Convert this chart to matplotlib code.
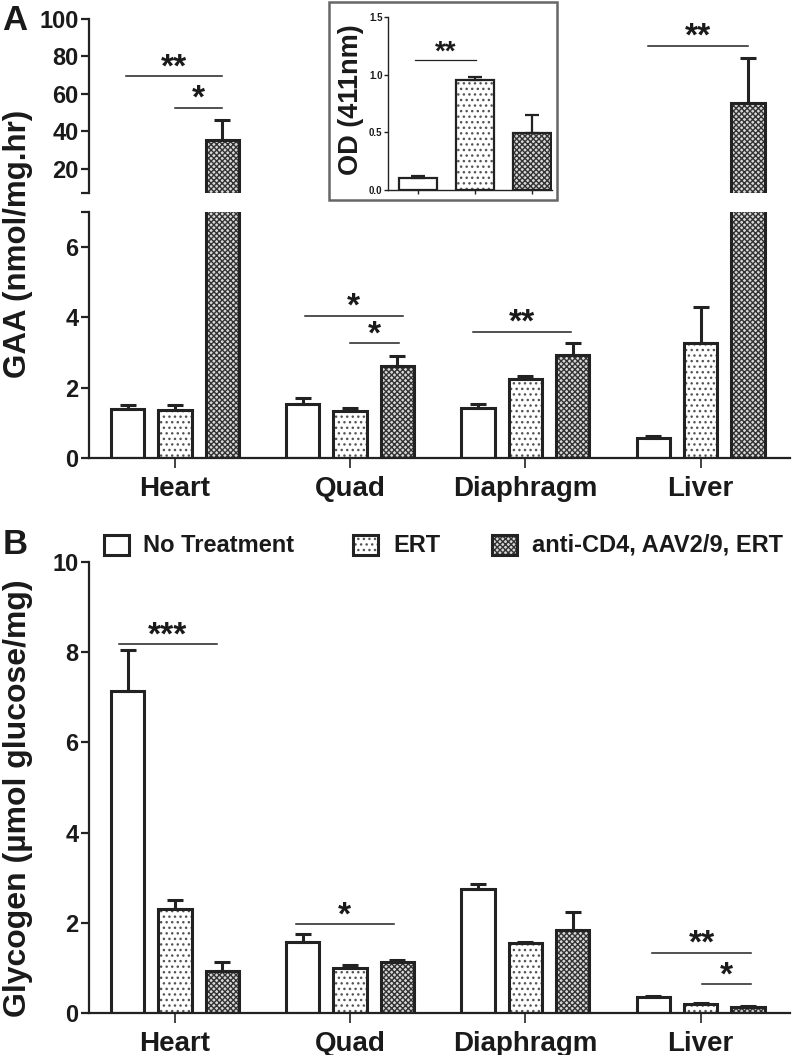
import matplotlib
matplotlib.use('Agg')
import matplotlib.pyplot as plt
from matplotlib.patches import Rectangle
import numpy as np

plt.rcParams['font.family'] = ['Liberation Sans', 'DejaVu Sans']
plt.rcParams['font.weight'] = 'bold'
plt.rcParams['hatch.linewidth'] = 1.0

# ---------------- data ----------------
tissues = ['Heart', 'Quad', 'Diaphragm', 'Liver']
series_names = ['No Treatment', 'ERT', 'anti-CD4, AAV2/9, ERT']

gaa_none = [1.39, 1.54, 1.42, 0.56]
gaa_none_err = [0.13, 0.17, 0.12, 0.07]
gaa_ert = [1.38, 1.34, 2.25, 3.27]
gaa_ert_err = [0.12, 0.08, 0.08, 1.03]
gaa_combo = [35.3, 2.62, 2.93, 55.0]
gaa_combo_err = [10.7, 0.28, 0.35, 24.0]

gly_none = [7.15, 1.58, 2.75, 0.35]
gly_none_err = [0.90, 0.17, 0.12, 0.02]
gly_ert = [2.30, 1.00, 1.55, 0.20]
gly_ert_err = [0.20, 0.07, 0.03, 0.02]
gly_combo = [0.93, 1.12, 1.85, 0.13]
gly_combo_err = [0.19, 0.05, 0.40, 0.02]

od_vals = [0.10, 0.95, 0.49]
od_err = [0.02, 0.03, 0.16]

gaa_top_ticks = [20, 40, 60, 80, 100]
gaa_low_ticks = [0, 2, 4, 6]
gly_ticks = [0, 2, 4, 6, 8, 10]
od_ticks = [0.0, 0.5, 1.0, 1.5]

# significance: (group, start offset, end offset, y, label)
sig_gaa_top = [(0, -0.28, 0.27, 69.5, '**'), (0, 0.0, 0.27, 52.4, '*'),
               (3, -0.30, 0.27, 85.6, '**')]
sig_gaa_low = [(1, -0.26, 0.30, 4.04, '*'), (1, 0.0, 0.28, 3.27, '*'),
               (2, -0.30, 0.26, 3.59, '**')]
sig_gly = [(0, -0.32, 0.24, 8.18, '***'), (1, -0.31, 0.25, 1.97, '*'),
           (3, -0.28, 0.29, 1.33, '**'), (3, 0.01, 0.29, 0.64, '*')]
sig_od = [(0, -0.05, 1.02, 1.13, '**')]

# ---------------- style ----------------
W, H = 792, 1055
EDGE = '#222222'
styles = [dict(face='white', hatch=None, hcol='white'),
          dict(face='white', hatch='...', hcol='#555555'),
          dict(face='#d8d8d8', hatch='xxxxxx', hcol='#333333')]
offsets = [-0.27, 0.0, 0.27]
BW = 0.19

fig = plt.figure(figsize=(W / 100, H / 100), dpi=100)
fig.patch.set_facecolor('white')


def fx(px):
    return px / W


def fy(py):
    return 1 - py / H


def add_ax(x0, y0, x1, y1):
    return fig.add_axes([fx(x0), fy(y1), fx(x1) - fx(x0), fy(y0) - fy(y1)])


def style_axis(ax, bottom=True):
    for s in ['top', 'right']:
        ax.spines[s].set_visible(False)
    ax.spines['left'].set_linewidth(1.6)
    ax.spines['left'].set_color(EDGE)
    ax.spines['bottom'].set_linewidth(1.6)
    ax.spines['bottom'].set_color(EDGE)
    if not bottom:
        ax.spines['bottom'].set_visible(False)
        ax.tick_params(axis='x', bottom=False, labelbottom=False)
    ax.tick_params(axis='y', direction='out', length=6, width=1.6, labelsize=17,
                   pad=1.5, colors=EDGE, labelcolor='#1a1a1a')
    ax.tick_params(axis='x', direction='out', length=7, width=1.2, labelsize=20,
                   pad=6, colors=EDGE, labelcolor='#1a1a1a')
    ax.set_facecolor('none')


def draw_series(ax, x, vals, errs, st, width, lw=2.2, cap=6):
    ax.bar(x, vals, width, facecolor=st['face'],
           edgecolor=st['hcol'], hatch=st['hatch'], linewidth=0, zorder=2)
    ax.bar(x, vals, width, fill=False, edgecolor=EDGE,
           linewidth=lw, zorder=3)
    ax.errorbar(x, vals, yerr=[np.zeros(len(vals)), errs], fmt='none',
                ecolor=EDGE, elinewidth=lw, capsize=cap, capthick=lw, zorder=4)


def draw_sig(ax, sigs, positions, size=24, lw=1.1):
    for g, a, b, y, lab in sigs:
        x0 = positions[g] + a
        x1 = positions[g] + b
        ax.plot([x0, x1], [y, y], color=EDGE, lw=lw, zorder=5, clip_on=False)
        ax.annotate(lab, xy=((x0 + x1) / 2, y), xytext=(0, 0), textcoords='offset points',
                    ha='center', va='baseline', fontsize=size, color='#1a1a1a',
                    annotation_clip=False)


groups = np.arange(len(tissues))

# ---------------- Panel A ----------------
ax_top = add_ax(89, 19, 790, 193)
ax_low = add_ax(89, 212, 790, 458)

gaa_sets = [(gaa_none, gaa_none_err), (gaa_ert, gaa_ert_err), (gaa_combo, gaa_combo_err)]
for ax in (ax_top, ax_low):
    for (v, e), st, off in zip(gaa_sets, styles, offsets):
        draw_series(ax, groups + off, v, e, st, BW)
    ax.set_xlim(-0.49, 3.51)

ax_top.set_ylim(7, 100)
ax_top.set_yticks([7] + gaa_top_ticks)
ax_top.set_yticklabels([''] + [str(t) for t in gaa_top_ticks])
style_axis(ax_top, bottom=False)

ax_low.set_ylim(0, 7)
ax_low.set_yticks(gaa_low_ticks + [7])
ax_low.set_yticklabels([str(t) for t in gaa_low_ticks] + [''])
ax_low.set_xticks(groups)
ax_low.set_xticklabels(tissues)
style_axis(ax_low)

draw_sig(ax_top, sig_gaa_top, groups)
draw_sig(ax_low, sig_gaa_low, groups)

fig.text(fx(18), fy(244), 'GAA (nmol/mg.hr)', rotation=90, ha='center', va='center',
         fontsize=22.5, color='#1a1a1a')
fig.text(fx(2), fy(20), 'A', fontsize=25, ha='left', va='center', color='#1a1a1a')

# inset
fig.add_artist(Rectangle((fx(329), fy(200)), fx(557) - fx(329), fy(2) - fy(200),
                         transform=fig.transFigure, facecolor='white', edgecolor='#666666',
                         linewidth=1.8, zorder=2))
ax_in = add_ax(388, 17, 552, 190)
ax_in.set_zorder(3)
x_in = np.arange(len(od_vals))
for i in range(3):
    draw_series(ax_in, x_in[i:i + 1], od_vals[i:i + 1], od_err[i:i + 1], styles[i], 0.67,
                lw=1.6, cap=5)
ax_in.set_xlim(-0.53, 2.35)
ax_in.set_ylim(0, 1.5)
ax_in.set_yticks(od_ticks)
ax_in.set_yticklabels(['%.1f' % t for t in od_ticks])
ax_in.set_xticks(x_in)
ax_in.set_xticklabels([])
style_axis(ax_in)
ax_in.tick_params(axis='y', length=3, width=1.0, labelsize=7, pad=1)
ax_in.tick_params(axis='x', length=3, width=1.0)
for s in ['left', 'bottom']:
    ax_in.spines[s].set_linewidth(1.0)
draw_sig(ax_in, sig_od, x_in, size=20, lw=0.9)
fig.text(fx(351), fy(100), 'OD (411nm)', rotation=90, ha='center', va='center',
         fontsize=19.5, color='#1a1a1a', zorder=4)

# ---------------- Panel B ----------------
ax_b = add_ax(89, 562, 790, 1013)
gly_sets = [(gly_none, gly_none_err), (gly_ert, gly_ert_err), (gly_combo, gly_combo_err)]
for (v, e), st, off in zip(gly_sets, styles, offsets):
    draw_series(ax_b, groups + off, v, e, st, BW)
ax_b.set_xlim(-0.49, 3.51)
ax_b.set_ylim(0, 10)
ax_b.set_yticks(gly_ticks)
ax_b.set_xticks(groups)
ax_b.set_xticklabels(tissues)
style_axis(ax_b)
draw_sig(ax_b, sig_gly, groups)

fig.text(fx(18), fy(798), 'Glycogen (\u00b5mol glucose/mg)', rotation=90, ha='center',
         va='center', fontsize=23, color='#1a1a1a')
fig.text(fx(3), fy(545), 'B', fontsize=25, ha='left', va='center', color='#1a1a1a')

# legend (manual)
leg_pos = [(104, 143), (353, 393), (492, 532)]
for (sx, tx), st, name in zip(leg_pos, styles, series_names):
    fig.add_artist(Rectangle((fx(sx), fy(555)), fx(25), fy(535) - fy(555),
                             transform=fig.transFigure, facecolor=st['face'],
                             edgecolor=st['hcol'], hatch=st['hatch'], linewidth=0))
    fig.add_artist(Rectangle((fx(sx), fy(555)), fx(25), fy(535) - fy(555),
                             transform=fig.transFigure, fill=False,
                             edgecolor=EDGE, linewidth=2.2))
    fig.text(fx(tx), fy(545), name, fontsize=17, ha='left', va='center', color='#1a1a1a')

fig.savefig('out.png', dpi=100, facecolor='white')
